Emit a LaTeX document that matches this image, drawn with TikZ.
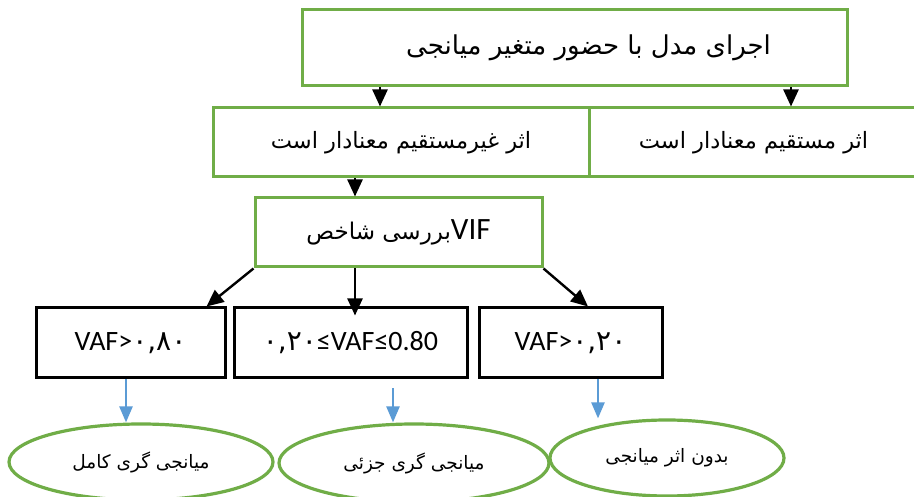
\documentclass[tikz,border=0pt]{standalone}
\usepackage{fontspec}
\usepackage{tikz}
\usetikzlibrary{arrows.meta,shapes.geometric}
\setmainfont{Carlito}
\newfontfamily\farsi[Script=Arabic]{DejaVu Sans}
\TeXXeTstate=1
\definecolor{boxgreen}{RGB}{112,173,71}
\definecolor{arrowblue}{RGB}{91,155,213}
\newcommand{\fa}[1]{{\farsi\beginR #1\endR}}

\begin{document}
\begin{tikzpicture}[x=1pt,y=-1pt]
\tikzstyle{every node}+=[inner sep=0pt]
\tikzstyle{greenbox}=[draw=boxgreen, line width=3pt, rectangle]
\tikzstyle{blackbox}=[draw=black, line width=3pt, rectangle, minimum width=189pt, minimum height=70pt, font=\fontsize{28}{32}\selectfont]
\tikzstyle{result}=[draw=boxgreen, line width=3.2pt, ellipse, font=\fontsize{18.5}{22}\selectfont]
\tikzstyle{darrow}=[draw=black, line width=2.4pt, -{Triangle[length=17pt,width=15pt]}]
\tikzstyle{barrow}=[draw=arrowblue, line width=2.4pt, -{Triangle[length=16pt,width=13pt]}]
\useasboundingbox (0,0) rectangle (914,497);
\fill[white] (0,0) rectangle (914,497);
% top row
\node[greenbox, minimum width=545pt, minimum height=76pt, font=\fontsize{26}{30}\selectfont] (model) at (574.5,48) {\hspace*{28pt}\fa{اجرای مدل با حضور متغیر میانجی}};
\node[greenbox, minimum width=376pt, minimum height=69pt, font=\fontsize{22.5}{26}\selectfont] (indirect) at (401,142.5) {\fa{اثر غیرمستقیم معنادار است}};
\node[greenbox, minimum width=329pt, minimum height=69pt, font=\fontsize{22.5}{26}\selectfont] (direct) at (753.5,142.5) {\fa{اثر مستقیم معنادار است}};
\node[greenbox, minimum width=287pt, minimum height=69pt, font=\fontsize{31}{35}\selectfont] (vif) at (398.5,232.5) {{\fontsize{23}{27}\selectfont\fa{بررسی شاخص}}VIF};
% VAF boxes
\node[blackbox] (full) at (130.5,343) {VAF>{\farsi ۰,۸۰}};
\node[blackbox, minimum width=233pt] (partial) at (350.5,343) {{\farsi ۰,۲۰}≤VAF≤0.80};
\node[blackbox, minimum width=183pt] (none) at (570.5,343) {VAF>{\farsi ۰,۲۰}};
% outcomes
\node[result, minimum width=264pt, minimum height=76pt] (efull) at (141,462) {\fa{میانجی گری کامل}};
\node[result, minimum width=270pt, minimum height=78pt] (epartial) at (414,463) {\fa{میانجی گری جزئی}};
\node[result, minimum width=234pt, minimum height=76pt] (enone) at (667,458) {\fa{بدون اثر میانجی}};
% connectors
\coordinate (c1) at (380,0);
\coordinate (c2) at (791,0);
\coordinate (c3) at (355,0);
\draw[darrow] (c1 |- model.south) -- (c1 |- indirect.north);
\draw[darrow] (c2 |- model.south) -- (c2 |- direct.north);
\draw[darrow] (c3 |- indirect.south) -- (c3 |- vif.north);
\draw[darrow] (vif.south west) -- ([xshift=-20pt]full.north east);
\draw[darrow] (c3 |- vif.south) -- ([yshift=-9pt]c3 |- partial.north);
\draw[darrow] (vif.south east) -- ([xshift=-12pt]none.north -| 600,0);
\coordinate (b1) at (126,0);
\coordinate (b2) at (393,0);
\coordinate (b3) at (598,0);
\draw[barrow] (b1 |- full.south) -- (b1 |- efull.north);
\draw[barrow] ([yshift=-9pt]b2 |- partial.south) -- (b2 |- epartial.north);
\draw[barrow] (b3 |- none.south) -- (b3 |- enone.north);
\end{tikzpicture}
\end{document}
